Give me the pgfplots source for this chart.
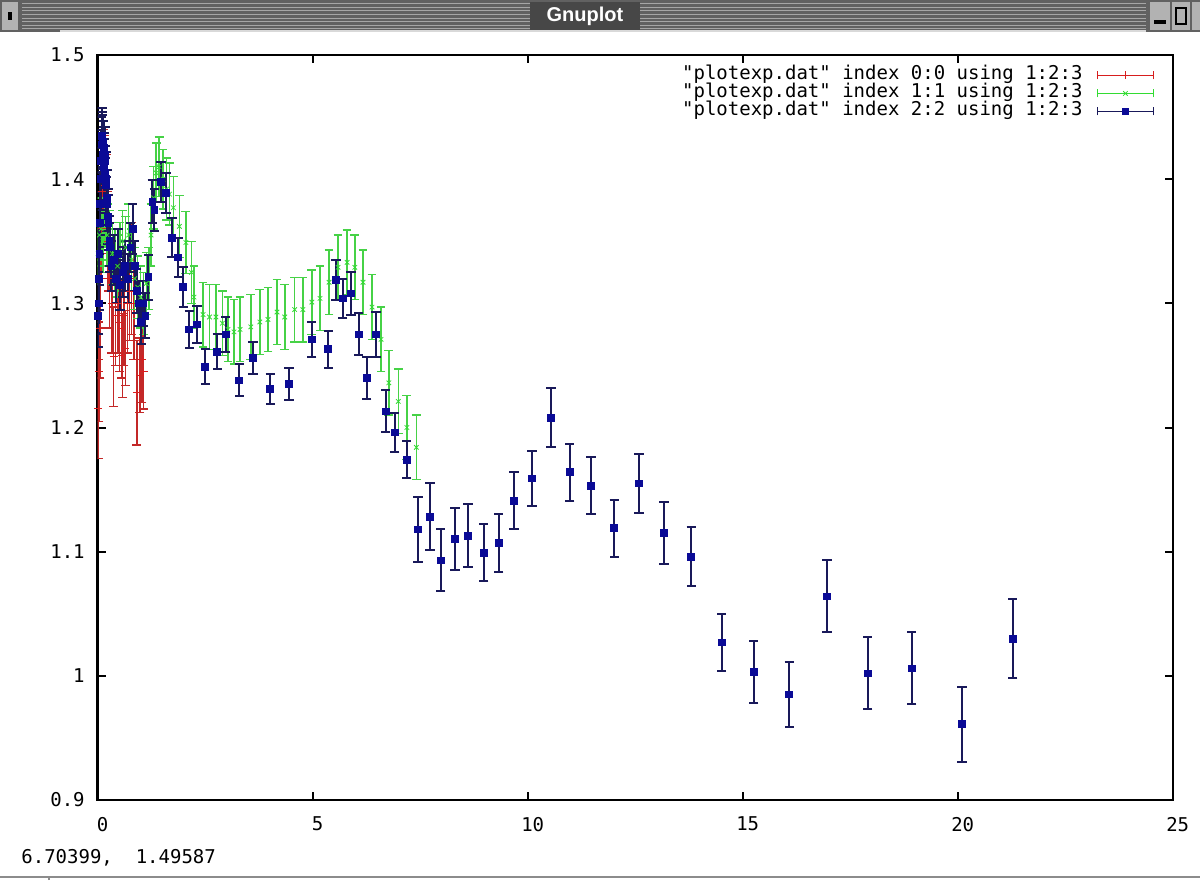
\documentclass[border=0pt]{standalone}
\usepackage{fontspec}
\setmainfont{DejaVu Sans Mono}
\newfontfamily\gpfont{DejaVu Sans Mono}
\newfontfamily\barfont{Liberation Sans}
\usepackage{pgfplots}
\usepackage{pgfplotstable}
\pgfplotsset{compat=1.18}

\definecolor{gpred}{RGB}{215,30,30}
\definecolor{gpredbar}{RGB}{195,40,40}
\definecolor{gpgreen}{RGB}{50,220,50}
\definecolor{gpgreenbar}{RGB}{70,210,70}
\definecolor{gpblue}{RGB}{10,10,150}
\definecolor{gpbluebar}{RGB}{25,25,90}

% gnuplot style legend samples: bar with end caps and the point in the middle
\pgfplotsset{
	red legend/.style={legend image code/.code={
		\begin{scope}\color{gpred}
		\draw[draw=gpred, draw opacity=1, solid, line width=0.9pt] (0pt,-2pt)--(0pt,2pt) (0pt,0pt)--(28pt,0pt) (28pt,-2pt)--(28pt,2pt);
		\end{scope}
		\draw[##1] plot coordinates {(14pt,0pt)};}},
	green legend/.style={legend image code/.code={
		\begin{scope}\color{gpgreen}
		\draw[draw=gpgreen, draw opacity=1, solid, line width=0.9pt] (0pt,-2pt)--(0pt,2pt) (0pt,0pt)--(28pt,0pt) (28pt,-2pt)--(28pt,2pt);
		\end{scope}
		\draw[##1] plot coordinates {(14pt,0pt)};}},
	blue legend/.style={legend image code/.code={
		\begin{scope}\color{gpbluebar}
		\draw[draw=gpbluebar, draw opacity=1, solid, line width=0.9pt] (0pt,-2pt)--(0pt,2pt) (0pt,0pt)--(28pt,0pt) (28pt,-2pt)--(28pt,2pt);
		\end{scope}
		\draw[##1] plot coordinates {(14pt,0pt)};}}
}

% index 0
\pgfplotstableread{
x y e
0.01 1.215 0.040
0.03 1.245 0.040
0.05 1.280 0.040
0.07 1.320 0.040
0.09 1.360 0.040
0.11 1.390 0.040
0.14 1.400 0.040
0.17 1.395 0.040
0.20 1.380 0.040
0.24 1.350 0.040
0.28 1.320 0.040
0.33 1.300 0.040
0.37 1.257 0.040
0.42 1.290 0.040
0.47 1.300 0.040
0.51 1.285 0.040
0.55 1.280 0.040
0.57 1.258 0.034
0.61 1.290 0.040
0.64 1.264 0.030
0.69 1.300 0.040
0.74 1.310 0.040
0.79 1.320 0.045
0.84 1.300 0.045
0.91 1.228 0.042
0.98 1.242 0.030
1.03 1.255 0.035
1.07 1.245 0.030
}\redtab

% index 1
\pgfplotstableread{
x y e
0.01 1.340 0.025
0.04 1.355 0.025
0.08 1.360 0.025
0.12 1.350 0.025
0.17 1.370 0.025
0.22 1.355 0.025
0.28 1.350 0.025
0.34 1.340 0.025
0.40 1.335 0.025
0.46 1.330 0.025
0.52 1.340 0.025
0.58 1.350 0.025
0.65 1.345 0.025
0.72 1.355 0.025
0.79 1.335 0.025
0.86 1.320 0.025
0.93 1.313 0.025
1.00 1.305 0.025
1.07 1.300 0.025
1.13 1.316 0.025
1.19 1.320 0.025
1.24 1.355 0.025
1.30 1.385 0.025
1.36 1.405 0.024
1.43 1.410 0.024
1.52 1.400 0.024
1.60 1.392 0.025
1.67 1.388 0.025
1.76 1.377 0.025
1.90 1.362 0.025
2.05 1.349 0.025
2.18 1.325 0.025
2.24 1.305 0.025
2.45 1.291 0.026
2.60 1.289 0.026
2.75 1.289 0.026
2.90 1.284 0.026
3.03 1.279 0.026
3.17 1.277 0.026
3.31 1.279 0.026
3.56 1.281 0.026
3.77 1.285 0.026
3.96 1.287 0.026
4.17 1.293 0.026
4.35 1.289 0.026
4.58 1.295 0.026
4.77 1.295 0.026
4.98 1.301 0.026
5.17 1.304 0.026
5.38 1.317 0.026
5.59 1.329 0.026
5.80 1.333 0.026
5.98 1.329 0.026
6.17 1.317 0.026
6.38 1.297 0.026
6.59 1.271 0.026
6.77 1.236 0.026
6.99 1.221 0.026
7.19 1.200 0.026
7.41 1.184 0.026
}\greentab

% index 2
\pgfplotstableread{
x y e
0.01 1.290 0.025
0.02 1.300 0.025
0.03 1.320 0.025
0.04 1.340 0.025
0.05 1.365 0.025
0.06 1.380 0.025
0.07 1.400 0.025
0.08 1.415 0.025
0.09 1.428 0.022
0.10 1.435 0.022
0.11 1.432 0.022
0.12 1.430 0.022
0.13 1.420 0.022
0.14 1.425 0.022
0.15 1.410 0.022
0.16 1.415 0.022
0.17 1.405 0.022
0.18 1.420 0.022
0.19 1.395 0.022
0.20 1.400 0.022
0.21 1.380 0.022
0.22 1.385 0.022
0.24 1.370 0.022
0.25 1.365 0.022
0.27 1.350 0.020
0.28 1.345 0.020
0.32 1.330 0.020
0.37 1.335 0.020
0.42 1.320 0.020
0.47 1.340 0.020
0.52 1.315 0.020
0.58 1.325 0.020
0.64 1.330 0.020
0.70 1.320 0.020
0.76 1.345 0.020
0.81 1.360 0.020
0.86 1.330 0.020
0.91 1.310 0.018
0.96 1.300 0.018
1.01 1.285 0.018
1.06 1.300 0.018
1.11 1.290 0.018
1.18 1.321 0.018
1.27 1.382 0.017
1.32 1.375 0.017
1.47 1.398 0.016
1.59 1.389 0.016
1.73 1.353 0.016
1.87 1.337 0.016
1.99 1.313 0.016
2.13 1.279 0.015
2.31 1.283 0.015
2.50 1.249 0.014
2.78 1.261 0.014
2.98 1.275 0.014
3.29 1.238 0.013
3.61 1.256 0.013
4.01 1.231 0.012
4.45 1.235 0.013
4.98 1.271 0.014
5.36 1.263 0.015
5.54 1.319 0.016
5.70 1.304 0.016
5.89 1.308 0.017
6.07 1.275 0.017
6.26 1.240 0.017
6.47 1.275 0.018
6.70 1.213 0.017
6.91 1.196 0.016
7.19 1.174 0.015
7.45 1.118 0.026
7.73 1.128 0.027
7.98 1.093 0.025
8.31 1.110 0.025
8.61 1.113 0.025
8.98 1.099 0.023
9.33 1.107 0.023
9.68 1.141 0.023
10.10 1.159 0.022
10.54 1.208 0.024
10.98 1.164 0.023
11.47 1.153 0.023
12.01 1.119 0.023
12.59 1.155 0.024
13.17 1.115 0.025
13.80 1.096 0.024
14.51 1.027 0.023
15.26 1.003 0.025
16.08 0.985 0.026
16.96 1.064 0.029
17.91 1.002 0.029
18.93 1.006 0.029
20.10 0.961 0.030
21.28 1.030 0.032
}\bluetab

\begin{document}
\begin{tikzpicture}
\path[use as bounding box] (0pt,0pt) rectangle (600pt,440pt);

% window title bar
\fill[black!62] (0pt,424pt) rectangle (600pt,440pt);
\foreach \i in {0,...,7}
  \draw[black!35, line width=0.5pt] (11pt,425.5pt+\i*1.8pt) -- (573pt,425.5pt+\i*1.8pt);
\fill[black!72] (265pt,425pt) rectangle (320pt,439pt);
\draw[white!85!black, line width=0.6pt] (30pt,424.5pt) -- (573pt,424.5pt);
\fill[black!30] (1pt,425pt) rectangle (9pt,439pt);
\fill[black] (4pt,430pt) rectangle (6pt,434pt);
\fill[black!30] (575pt,425pt) rectangle (585pt,439pt);
\fill[black] (577pt,428pt) rectangle (583pt,430pt);
\fill[black!30] (586pt,425pt) rectangle (595pt,439pt);
\draw[black, line width=0.8pt] (588pt,428pt) rectangle (593pt,436pt);
\fill[black!30] (596pt,425pt) rectangle (600pt,439pt);
\node[white, font=\barfont\bfseries\fontsize{10}{10}\selectfont] at (292.5pt,432pt) {Gnuplot};

% status line
\node[anchor=west, inner sep=0pt, font=\gpfont\fontsize{9.5}{9}\selectfont] at (10.5pt,11pt) {6.70399,\ \ 1.49587};
\draw[black!45, line width=0.8pt] (0pt,1.5pt) -- (600pt,1.5pt);
\draw[black!45, line width=0.6pt] (24.5pt,0pt) -- (24.5pt,1.5pt);

\begin{axis}[
	at={(48.85pt,40pt)},
	anchor=south west,
	scale only axis,
	width=537.5pt,
	height=372.5pt,
	xmin=0, xmax=25,
	ymin=0.9, ymax=1.5,
	xtick={0,5,10,15,20,25},
	ytick={0.9,1.0,1.1,1.2,1.3,1.4,1.5},
	tick align=inside,
	major tick length=4pt,
	minor tick num=0,
	axis line style={line width=1.2pt},
	every tick/.style={black, line width=1pt},
	tick label style={font=\gpfont\fontsize{9.5}{9}\selectfont},
	/pgf/number format/assume math mode=true,
	xticklabel style={yshift=-5pt, xshift=2.5pt},
	yticklabel style={xshift=-3pt},
	legend plot pos=right,
	legend cell align=right,
	legend style={at={(1,1)}, anchor=north east, xshift=-6pt, yshift=-3.5pt,
		fill=none, font=\gpfont\fontsize{9.5}{9}\selectfont,
		nodes={inner sep=0pt, text height=6.5pt, text depth=2.5pt},
		column sep=7pt},
	every axis legend/.append style={draw=none}]

	% index 0:0
	\addplot[only marks, mark=+, mark size=2pt, color=gpred, red legend,
		error bars/.cd, y dir=both, y explicit,
		error bar style={gpredbar, line width=0.7pt},
		error mark options={rotate=90, gpredbar, line width=0.7pt, mark size=2.2pt}]
		table[x=x, y=y, y error=e] {\redtab};
	\addlegendentry{"plotexp.dat" index 0:0 using 1:2:3}

	% index 1:1
	\addplot[only marks, mark=x, mark size=1.6pt, color=gpgreen, green legend,
		error bars/.cd, y dir=both, y explicit,
		error bar style={gpgreenbar, line width=0.75pt},
		error mark options={rotate=90, gpgreenbar, line width=0.7pt, mark size=2.2pt}]
		table[x=x, y=y, y error=e] {\greentab};
	\addlegendentry{"plotexp.dat" index 1:1 using 1:2:3}

	% index 2:2
	\addplot[only marks, mark=square*, mark size=1.7pt, color=gpblue, blue legend,
		error bars/.cd, y dir=both, y explicit,
		error bar style={gpbluebar, line width=1pt},
		error mark options={rotate=90, gpbluebar, line width=1pt, mark size=2.3pt}]
		table[x=x, y=y, y error=e] {\bluetab};
	\addlegendentry{"plotexp.dat" index 2:2 using 1:2:3}
\end{axis}
\end{tikzpicture}
\end{document}
